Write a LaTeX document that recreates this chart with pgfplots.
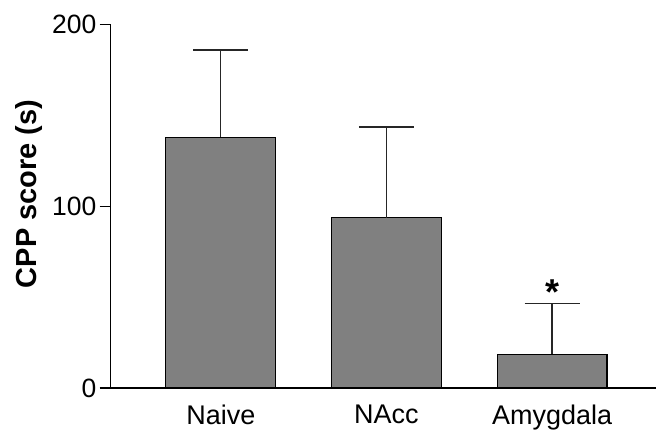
\documentclass[border=0pt]{standalone}
\usepackage{fontspec}
\setmainfont{Liberation Sans}
\usepackage{pgfplots}
\pgfplotsset{compat=1.18}
\begin{document}
\begin{tikzpicture}
\begin{axis}[
  scale only axis,
  width=546.3pt, height=363.8pt,
  xmin=-0.6655, xmax=2.630,
  ymin=0, ymax=200,
  axis x line*=bottom,
  axis y line*=left,
  axis line style={line width=1.2pt, -},
  xtick={0,1,2},
  xticklabels={Naive,NAcc,Amygdala},
  x tick style={draw=none},
  ytick={0,100,200},
  y tick style={line width=1.2pt, black},
  tick align=outside,
  major tick length=11pt,
  /pgf/number format/assume math mode=true,
  yticklabel style={font=\fontsize{26.5}{31}\selectfont, inner sep=0pt, anchor=east, xshift=-3pt},
  xticklabel style={font=\fontsize{27}{32}\selectfont, inner sep=0pt, anchor=north, yshift=-5.5pt},
  ylabel={\bfseries CPP score (s)},
  ylabel style={font=\fontsize{29}{34}\selectfont, at={(axis description cs:-0.1496,0.534)}, anchor=center},
  clip=false,
]
\addplot[ybar, bar width=110pt, bar shift=0pt, fill={rgb,255:red,128;green,128;blue,128}, draw=black, line width=1.2pt,
  error bars/.cd, y dir=plus, y explicit,
  error bar style={line width=1.2pt, color=black!85},
  error mark options={rotate=90, mark size=27.5pt, line width=1.2pt, color=black!85}]
  coordinates {
  (0,138) +- (0,48)
  (1,93.6) +- (0,50)
  (2,18.5) +- (0,28)
  };
\node[anchor=base, font=\fontsize{36}{40}\selectfont\bfseries, inner sep=0pt] at (axis cs:2,46) {*};
\end{axis}
\path ([shift={(-110.7pt,-40.7pt)}]current axis.south west) rectangle ([shift={(0pt,24.5pt)}]current axis.north east);
\end{tikzpicture}
\end{document}
